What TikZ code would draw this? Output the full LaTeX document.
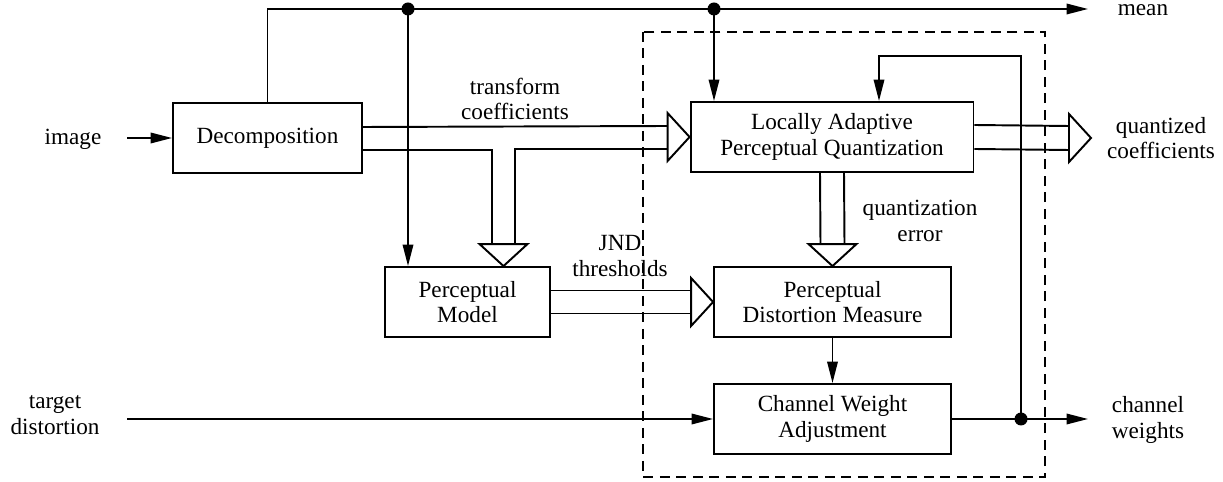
\documentclass[tikz,border=0pt]{standalone}
\usepackage{fontspec}
\setmainfont{Liberation Serif}
\usetikzlibrary{arrows.meta,positioning,calc}
\newcommand{\lbfont}{\fontsize{13.2}{14.6}\selectfont}
\tikzset{
  % plain framed block, two centred lines at most
  blk/.style    = {draw, line width=1.1pt, align=center, inner sep=2pt,
                   minimum height=1.4cm, font=\lbfont},
  lbl/.style    = {align=center, inner sep=2pt, font=\lbfont},
  wire/.style   = {line width=1.1pt},
  arr/.style    = {-{Triangle[length=4.3mm,width=2.1mm]}, line width=1.1pt},
  hollow/.style = {draw, line width=1.1pt, fill=white, line join=miter},
  dot/.style    = {circle, fill, inner sep=0pt, minimum size=2.6mm},
  frame/.style  = {line width=0.9pt, dash pattern=on 2mm off 1.3mm},
}
% open arrow heads for the coefficient bundles, #1 is the tip
\newcommand{\fatright}[1]{\draw[hollow] (#1) -- ++(-22,-24) -- ++(0,48) -- cycle;}
\newcommand{\fatdown}[1]{\draw[hollow] (#1) -- ++(-24,-22) -- ++(48,0) -- cycle;}

\begin{document}
\begin{tikzpicture}[x=0.02cm,y=-0.02cm]
\useasboundingbox (0,0) rectangle (1223,482);
% --- the adaptive loop ---------------------------------------------------
\draw[frame] (643,32) rectangle (1045,477);
% --- blocks --------------------------------------------------------------
\node[blk, minimum width=3.78cm] (dec)  at (267.5,138) {Decomposition};
\node[blk, minimum width=5.66cm] (lapq) at (832,137)   {Locally Adaptive\\Perceptual Quantization};
\node[blk, minimum width=3.3cm]  (pm)   at (467.5,302) {Perceptual\\Model};
\node[blk, minimum width=4.74cm] (pdm)  at (832.5,302) {Perceptual\\Distortion Measure};
\node[blk, minimum width=4.74cm] (cwa)  at (832.5,419) {Channel Weight\\Adjustment};
% --- inputs, outputs and signal names --------------------------------------
\node[lbl] (image)  at (73,139)   {image};
\node[lbl] (target) at (55,415)   {target\\distortion};
\node[lbl, anchor=base] (mean) at (1143,16) {mean};
\node[lbl] (qcoef)  at (1161,138) {quantized\\coefficients};
\node[lbl] (chw)    at (1148,420) {channel\\weights};
\node[lbl] (tcoef)  at (515,99)   {transform\\coefficients};
\node[lbl] (jnd)    at (620,256)  {JND\\thresholds};
\node[lbl] (qerr)   at (920,221)  {quantization\\error};
% --- junctions and free ends ----------------------------------------------
\node[dot] (tap1) at (408,9) {};
\node[dot] (tap2) at (714,9) {};
\node[dot] (tap3) at (1021,419) {};
\coordinate (imgin)   at (127,138);
\coordinate (tdin)    at (127,419);
\coordinate (meanout) at (1088,9);
\coordinate (wout)    at (1088,419);
\coordinate (qout)    at (1091,138);
\coordinate (fb)      at (879,56);
\coordinate (pmin)    at ([shift={(36,0)}]pm.north);
% --- mean path -------------------------------------------------------------
\draw[arr] (imgin) -- (dec.west);
\draw[arr] (dec.north) |- (meanout);
\draw[arr] (tap1.center) -- (tap1 |- pm.north);
\draw[arr] (tap2.center) -- (tap2 |- lapq.north);
% --- transform coefficients bundle -----------------------------------------
\draw[wire] ([shift={(0,-11)}]dec.east) -- ([shift={(-22,-11)}]lapq.west);
\draw[wire] ([shift={(0,12)}]dec.east) -| ([shift={(-11.5,-22)}]pmin);
\draw[wire] ([shift={(11.5,-22)}]pmin) |- ([shift={(-22,12)}]lapq.west);
\fatdown{pmin}
\fatright{lapq.west}
% --- JND thresholds bundle -------------------------------------------------
\draw[wire] ([shift={(0,-11.5)}]pm.east) -- ([shift={(-22,-11.5)}]pdm.west);
\draw[wire] ([shift={(0,11.5)}]pm.east) -- ([shift={(-22,11.5)}]pdm.west);
\fatright{pdm.west}
% --- quantized coefficients bundle -----------------------------------------
\draw[wire] ([shift={(0,-12)}]lapq.east) -- ([shift={(-22,-12)}]qout);
\draw[wire] ([shift={(0,12)}]lapq.east) -- ([shift={(-22,12)}]qout);
\fatright{qout}
% --- quantization error bundle ---------------------------------------------
\draw[wire] ([shift={(-12,0)}]lapq.south) -- ([shift={(-12,-22)}]pdm.north);
\draw[wire] ([shift={(12,0)}]lapq.south) -- ([shift={(12,-22)}]pdm.north);
\fatdown{pdm.north}
% --- weights and feedback --------------------------------------------------
\draw[arr] (pdm.south) -- (cwa.north);
\draw[arr] (tdin) -- (cwa.west);
\draw[arr] (cwa.east) -- (wout);
\draw[arr] (tap3.center) |- (fb) -- (fb |- lapq.north);
\end{tikzpicture}
\end{document}
